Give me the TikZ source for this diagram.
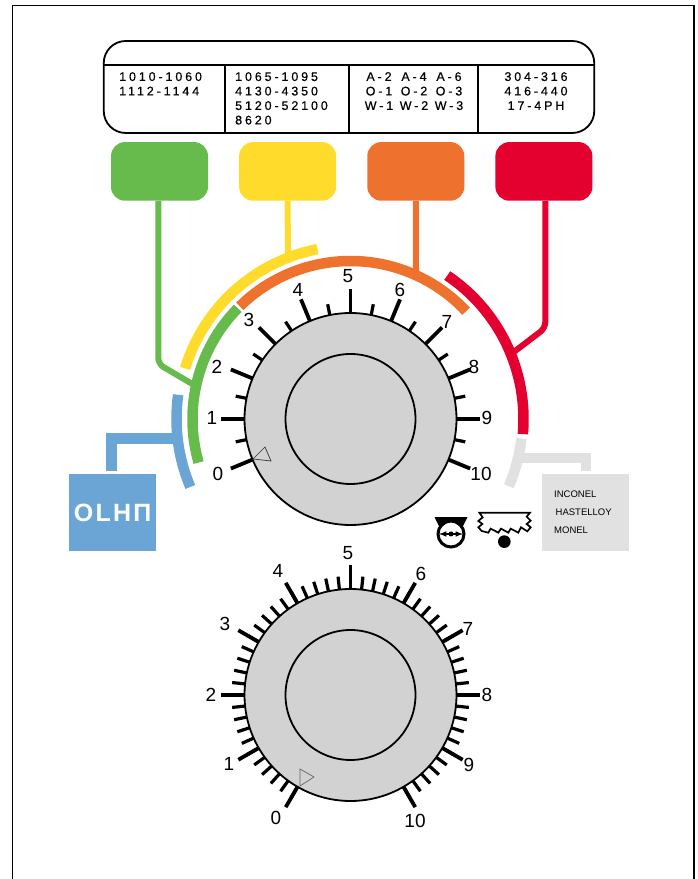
\documentclass[tikz,border=0pt]{standalone}
\usepackage{fontspec}
\usepackage{xcolor}
\setmainfont{Liberation Sans}
\newfontfamily\gradefont[LetterSpace=23,FakeBold=0.5]{Liberation Sans}
\newfontfamily\logofont[LetterSpace=9]{Liberation Sans Bold}
\definecolor{matgreen}{HTML}{66BB4C}
\definecolor{matyellow}{HTML}{FFDC2B}
\definecolor{matorange}{HTML}{EE712E}
\definecolor{matred}{HTML}{E4002F}
\definecolor{matblue}{HTML}{6AA5D6}
\definecolor{matgray}{HTML}{E1E1E1}
\definecolor{dialgray}{HTML}{D2D2D2}
\newcommand{\gradecell}[1]{\makebox[35pt]{#1}}
\tikzset{
    swatch/.style={rounded corners=14pt, minimum width=97pt, minimum height=58.7pt, inner sep=0pt},
    plate/.style={minimum width=87pt, minimum height=77pt, inner sep=0pt},
    band/.style={line width=10.5pt},
    link/.style={line width=6pt, rounded corners=6pt},
    stub/.style={line width=10.4pt},
    majortick/.style={line width=3.8pt},
    minortick/.style={line width=3.2pt},
    dial/.style={circle, draw=black, line width=1.8pt, fill=dialgray, inner sep=0pt, outer sep=0pt},
    dialnum/.style={font=\fontsize{19}{20}\selectfont, inner sep=0pt},
    gradetext/.style={font=\gradefont\fontsize{12.5}{14.5}\selectfont, inner sep=0pt},
}
\begin{document}
\begin{tikzpicture}[x=1pt, y=1pt]
    \useasboundingbox (0,0) rectangle (697,879);
    \draw[line width=1.4pt] (12.7,0) -- (12.7,873.7) -- (694,873.7) -- (694,0);

    % grade table
    \node[draw, line width=1.8pt, rounded corners=22pt, minimum width=490.5pt, minimum height=92pt, inner sep=0pt] (gradetable) at (349,792) {};
    \draw[line width=1.8pt] (gradetable.west |- 0,814) -- (gradetable.east |- 0,814);
    \foreach \x in {225, 349, 478}
        \draw[line width=1.8pt] (\x,814) -- (\x,746);
    \node[gradetext, anchor=north west, align=left] (gradesa) at (119,807) {1010-1060\\1112-1144};
    \node[gradetext, anchor=north west, align=left] (gradesb) at (235,807) {1065-1095\\4130-4350\\5120-52100\\8620};
    \node[gradetext, anchor=north, align=center] (gradesc) at (414,807) {\gradecell{A-2}\gradecell{A-4}\gradecell{A-6}\\\gradecell{O-1}\gradecell{O-2}\gradecell{O-3}\\\gradecell{W-1}\gradecell{W-2}\gradecell{W-3}};
    \node[gradetext, anchor=north, align=center] (gradesd) at (536,807) {304-316\\416-440\\17-4PH};

    % colour swatches
    \node[swatch, fill=matgreen] (greenbox) at (159.5,707.6) {};
    \node[swatch, fill=matyellow] (yellowbox) at (287.6,707.6) {};
    \node[swatch, fill=matorange] (orangebox) at (415.8,707.6) {};
    \node[swatch, fill=matred] (redbox) at (543.9,707.6) {};

    % upper dial
    \coordinate (topc) at (350.5,460);
    \coordinate (greencorner) at (158.3,515);
    \coordinate (redcorner) at (545.3,551);
    \begin{scope}[shift={(topc)}]
        \coordinate (greenend) at (168:158);
        \coordinate (yellowend) at (111.2:173);
        \coordinate (orangeend) at (65.5:158);
        \coordinate (redend) at (22:173);
        \coordinate (blueend) at (186.5:174);
        \coordinate (grayend) at (-13:173);
        \draw[link, matgreen] (greenbox.south -| greencorner) -- (greencorner) -- (greenend);
        \draw[link, matyellow] (yellowbox.south) -- (yellowend);
        \draw[link, matorange] (orangebox.south) -- (orangeend);
        \draw[link, matred] (redbox.south -| redcorner) -- (redcorner) -- (redend);
        \draw[band, matgreen] (135.5:158) arc[start angle=135.5, end angle=196, radius=158];
        \draw[band, matyellow] (101:173) arc[start angle=101, end angle=163, radius=173];
        \draw[band, matorange] (134.5:158) arc[start angle=134.5, end angle=43, radius=158];
        \draw[band, matred] (56:173) arc[start angle=56, end angle=-5, radius=173];
        \draw[band, matblue] (172:174) arc[start angle=172, end angle=203, radius=174];
        \draw[band, matgray] (-6.5:172) arc[start angle=-6.5, end angle=-23, radius=172];
        \foreach \a in {-11.25,11.25,...,191.25}
            \draw[minortick] (\a:105) -- (\a:117);
        \foreach \a in {-22.5,0,...,202.5}
            \draw[majortick] (\a:105) -- (\a:129.5);
    \end{scope}
    \node[dial, minimum size=212pt] (topdial) at (topc) {};
    \node[dial, minimum size=130pt] (tophub) at (topc) {};
    \draw[line width=.7pt, black!80] (253,420) -- (265,432) -- (271,418) -- cycle;
    \foreach \x/\y/\lab in {218/405/0, 212/461/1, 217/512/2, 249/559/3, 298/589/4, 348/603/5, 400/589/6, 447/557/7, 474/512/8, 487/461/9, 481/405/10}
        \node[dialnum] (topnum\lab) at (\x,\y) {\lab};

    % carbide and hss plates
    \node[plate, fill=matblue] (blueplate) at (112.7,366.6) {};
    \node[font=\logofont\fontsize{25}{25}\selectfont, text=white, inner sep=0pt] (bluetext) at (blueplate) {OLHП};
    \coordinate (bluecorner) at (111.3,423);
    \draw[stub, matblue] (blueend) -- (bluecorner |- blueend) -- (bluecorner |- 0,408.3);
    \node[plate, fill=matgray] (grayplate) at (585.3,366.6) {};
    \coordinate (graycorner) at (586,423);
    \draw[stub, matgray] (grayend) -- (graycorner |- grayend) -- (graycorner |- 0,408.3);
    \foreach \x/\y/\name/\lab in {554/385/inconel/INCONEL, 555.5/367/hastelloy/HASTELLOY, 554/349/monel/MONEL}
        \node[font=\fontsize{9.5}{11}\selectfont, anchor=west, inner sep=0pt] (\name) at (\x,\y) {\lab};

    % lathe and saw symbols
    \begin{scope}[shift={(451,345)}]
        \draw[line width=3pt] (0,0) circle (13);
        \fill (-16.5,16.8) -- (16.5,16.8) -- (11,6) -- (0,14) -- (-11,6) -- cycle;
        \draw[line width=1.5pt, latex-latex] (-12,0) -- (12,0);
        \fill (0,0) circle (2.5);
    \end{scope}
    \begin{scope}[shift={(420,459)}, x=.3333pt, y=-.3333pt]
        \draw[line width=1.7pt] (185,333) -- (175,322) -- (187,312) -- (175,303) -- (188,292) -- (178,278) -- (330,278) -- (320,290) -- (332,302) -- (320,312) -- (332,322) -- (322,334) -- (303,322) -- (295,338) -- (272,326) -- (265,338) -- (243,326) -- (235,338) -- (212,326) -- (205,338) -- cycle;
        \fill (253,365) circle (19);
    \end{scope}

    % lower dial
    \coordinate (lowc) at (350.5,184);
    \begin{scope}[shift={(lowc)}]
        \foreach \a in {-60,-54,...,240}
            \draw[minortick] (\a:105) -- (\a:119);
        \foreach \a in {-60,-30,...,240}
            \draw[majortick] (\a:105) -- (\a:129.5);
    \end{scope}
    \node[dial, minimum size=212pt] (lowdial) at (lowc) {};
    \node[dial, minimum size=130pt] (lowhub) at (lowc) {};
    \draw[line width=.7pt, black!60] (300,110) -- (314,102) -- (300,93) -- cycle;
    \foreach \x/\y/\lab in {276/61/0, 229/115/1, 211/184/2, 225/255/3, 278/308/4, 348/326/5, 421/305/6, 468/250/7, 487/184/8, 469/114/9, 415/58/10}
        \node[dialnum] (lownum\lab) at (\x,\y) {\lab};
\end{tikzpicture}
\end{document}
